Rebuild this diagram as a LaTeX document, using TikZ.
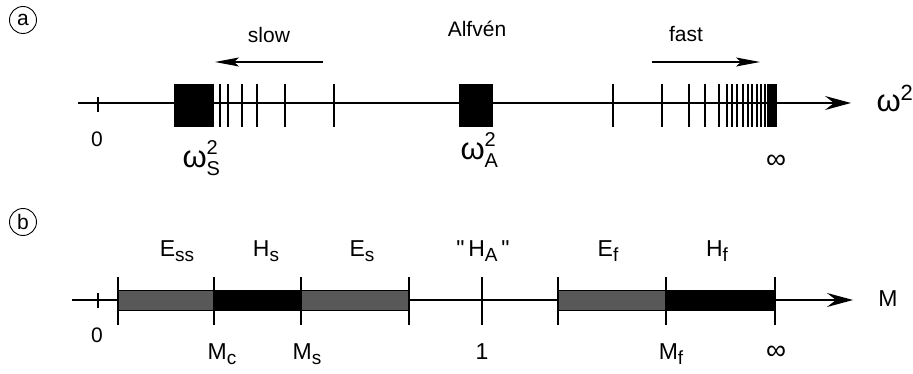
\documentclass[tikz,border=0pt]{standalone}
\usepackage{fontspec}
\setmainfont{Liberation Sans}
\usetikzlibrary{arrows.meta}

\definecolor{bargray}{RGB}{88,88,88}

% letter with a lowered index, and with index and exponent stacked
\newcommand{\idx}[2]{#1\raisebox{-0.22em}{\fontsize{19}{19}\selectfont #2}}
\newcommand{\idxexp}[3]{#1\rlap{\raisebox{0.42em}{\fontsize{20}{20}\selectfont #3}}\raisebox{-0.24em}{\fontsize{20}{20}\selectfont #2}}

\tikzset{
  axisline/.style={line width=1.1pt, -{Stealth[length=26pt,width=14pt,inset=9pt]}},
  dirarrow/.style={line width=1.1pt, -{Stealth[length=24pt,width=9pt,inset=5pt]}},
  mode/.style={line width=1.1pt},
  panel/.style={circle, draw, line width=0.9pt, inner sep=0pt, minimum size=27pt, font=\fontsize{21}{21}\selectfont},
  lbl/.style={font=\fontsize{21}{21}\selectfont},
  biglbl/.style={font=\fontsize{23}{23}\selectfont},
  omlbl/.style={font=\fontsize{31}{31}\selectfont},
  inflbl/.style={font=\fontsize{28}{28}\selectfont},
  band/.style={draw, line width=0.7pt},
}

\begin{document}
\begin{tikzpicture}[x=1pt,y=-1pt]
        \useasboundingbox (0,0) rectangle (913,374);

        % (a) spectrum along the omega^2 axis
        \node[panel] (pa) at (23,20) {a};
        \coordinate (a0) at (78,103);
        \coordinate (a1) at (851,103);
        \draw[axisline] (a0) -- (a1);
        \node[omlbl, anchor=base west] (om) at (873,112) {ω\raisebox{0.38em}{\fontsize{22}{22}\selectfont 2}};
        \draw[mode] (98,97) -- (98,112);
        \node[lbl, anchor=base] (za) at (97,147) {0};

        % slow continuum and its sequence
        \fill (174,84) rectangle (210,127);
        \foreach \x in {211,213,220,228,242,257,285,334} {
            \draw[mode] (\x,84) -- (\x,127);
        }
        \node[omlbl, anchor=base west] (ws) at (179,168) {\idxexp{ω}{S}{2}};
        \node[lbl, anchor=base] (slow) at (269,43) {slow};
        \coordinate (s0) at (323,62);
        \coordinate (s1) at (215,62);
        \draw[dirarrow] (s0) -- (s1);

        % Alfven continuum
        \fill (459,84) rectangle (493,127);
        \node[lbl, anchor=base] (alf) at (477,37) {Alfvén};
        \node[omlbl, anchor=base west] (wa) at (457,160) {\idxexp{ω}{A}{2}};

        % fast sequence
        \foreach \x in {613,662,689,705,719,727,732,737,743,748,752,757,761,765,768,770,772,774,776} {
            \draw[mode] (\x,84) -- (\x,127);
        }
        \fill (769,84) rectangle (777,127);
        \node[lbl, anchor=base] (fast) at (686,42) {fast};
        \coordinate (f0) at (652,62);
        \coordinate (f1) at (760,62);
        \draw[dirarrow] (f0) -- (f1);
        \node[inflbl] (infa) at (776,162) {∞};

        % (b) ranges along the M axis
        \node[panel] (pb) at (23,222) {b};
        \coordinate (b0) at (72,300);
        \coordinate (b1) at (853,300);
        \draw[axisline] (b0) -- (b1);
        \node[biglbl, anchor=base] (mm) at (888,306) {M};
        \draw[mode] (98,293) -- (98,308);
        \node[lbl, anchor=base] (zb) at (97,342) {0};

        \foreach \l/\r/\c in {118/214/bargray, 214/301/black, 301/409/bargray, 558/666/bargray, 666/775/black} {
            \filldraw[band, fill=\c] (\l,290) rectangle (\r,310);
        }
        \foreach \x in {118,214,301,409,482,558,666,775} {
            \draw[mode] (\x,277) -- (\x,325);
        }

        % names of the ranges
        \foreach \x/\t in {177/\idx{E}{ss}, 266/\idx{H}{s}, 362/\idx{E}{s}, 483/\textquotedbl\,\idx{H}{A}\,\textquotedbl, 608/\idx{E}{f}, 717/\idx{H}{f}} {
            \node[biglbl, anchor=base] at (\x,256) {\t};
        }

        % values at the boundaries
        \foreach \x/\t in {222/\idx{M}{c}, 307/\idx{M}{s}, 482/1, 671/\idx{M}{f}} {
            \node[biglbl, anchor=base] at (\x,359) {\t};
        }
        \node[inflbl] (infb) at (776,353) {∞};
    \end{tikzpicture}
\end{document}
